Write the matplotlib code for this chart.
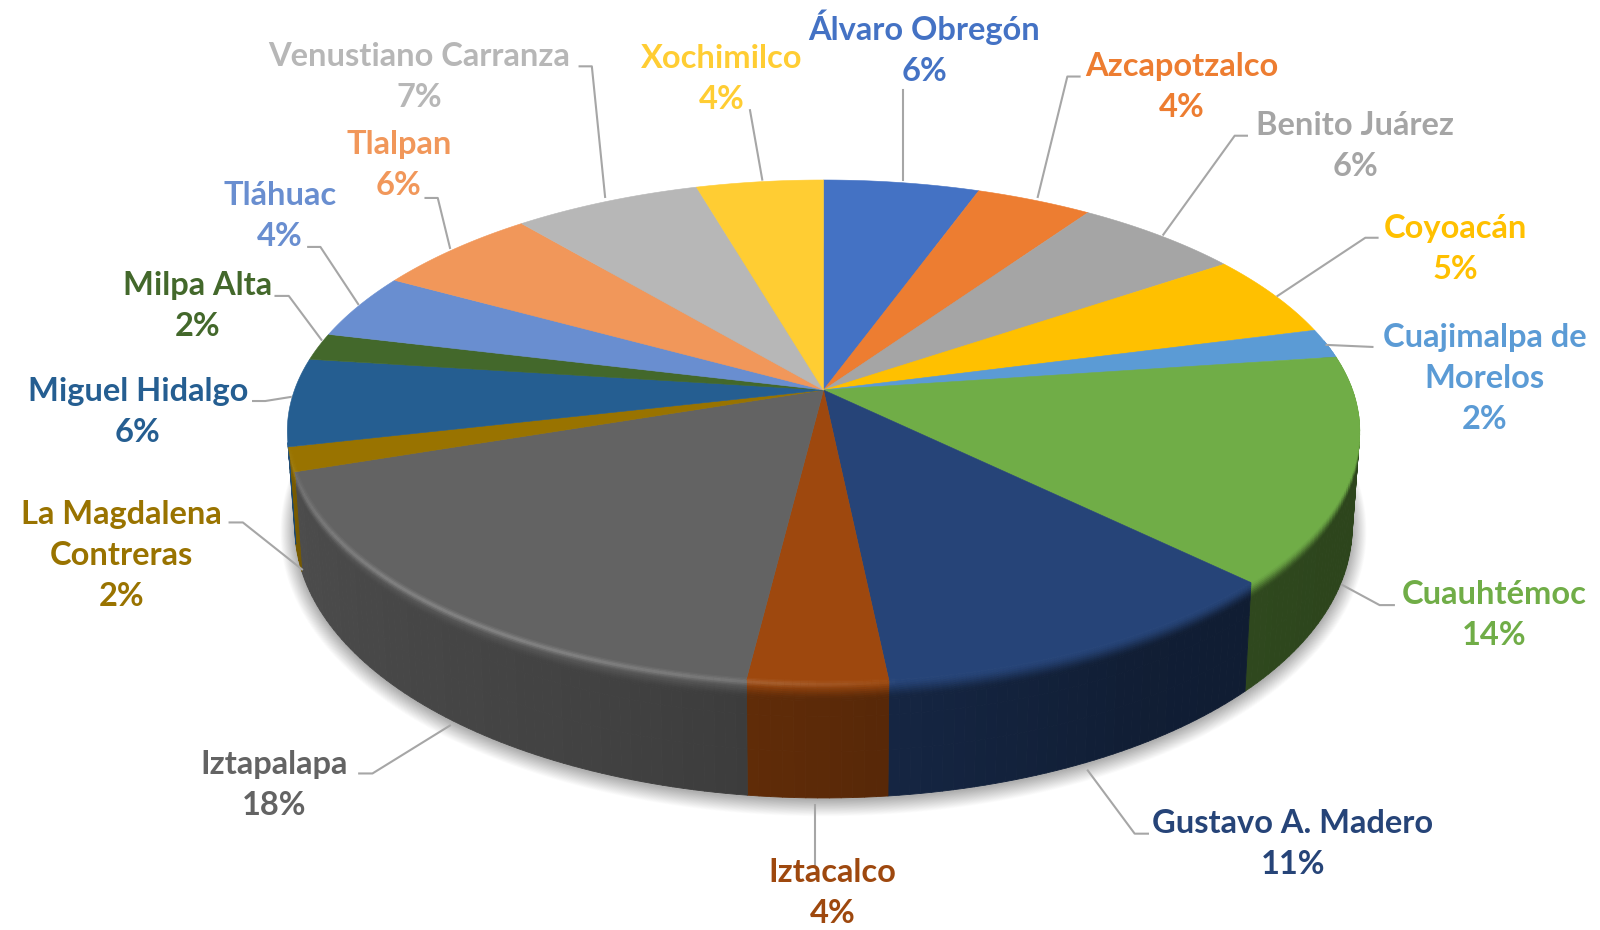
import numpy as np
import matplotlib
matplotlib.use("Agg")
import matplotlib.pyplot as plt
from matplotlib.collections import PolyCollection, LineCollection
from matplotlib.colors import to_rgb

# alcaldias, en orden de las manecillas desde arriba
alcaldias = ["Álvaro Obregón", "Azcapotzalco", "Benito Juárez", "Coyoacán",
             "Cuajimalpa de\nMorelos", "Cuauhtémoc", "Gustavo A. Madero", "Iztacalco",
             "Iztapalapa", "La Magdalena\nContreras", "Miguel Hidalgo", "Milpa Alta",
             "Tláhuac", "Tlalpan", "Venustiano Carranza", "Xochimilco"]
valores = [5.5, 4.1, 5.9, 5.4, 1.9, 14.5, 11.05, 3.6, 17.9, 1.55, 5.65, 1.75, 4.25, 5.85, 6.62, 4.48]
porcentajes = [6, 4, 6, 5, 2, 14, 11, 4, 18, 2, 6, 2, 4, 6, 7, 4]
colores = ["#4472C4", "#ED7D31", "#A5A5A5", "#FFC000", "#5B9BD5", "#70AD47", "#264478", "#9E480E",
           "#636363", "#997300", "#255E91", "#43682B", "#698ED0", "#F1975A", "#B7B7B7", "#FFCD33"]

# posicion de etiquetas y lineas guia (pixeles de la imagen 1568 de ancho)
pos_etiquetas = [(906, 47), (1158, 85), (1328, 143), (1426, 244), (1455, 371), (1464, 603),
                 (1267, 827), (816, 875), (269, 769), (119, 544), (135, 404), (194, 300),
                 (274, 212), (391, 162), (411, 75), (707, 77)]
guias = [[(885, 88), (885, 176)],
         [(1058, 75), (1046, 75), (1017, 193)],
         [(1222, 133), (1210, 133), (1140, 230)],
         [(1350, 233), (1338, 233), (1252, 290)],
         [(1345, 340), (1300, 338)],
         [(1366, 593), (1352, 593), (1315, 573)],
         [(1125, 817), (1112, 817), (1066, 755)],
         [(799, 848), (799, 789)],
         [(352, 758), (365, 758), (441, 711)],
         [(225, 512), (238, 512), (296, 558)],
         [(248, 393), (260, 393), (285, 389)],
         [(270, 290), (283, 290), (315, 333)],
         [(302, 242), (314, 242), (351, 298)],
         [(417, 194), (429, 194), (441, 243)],
         [(568, 65), (580, 65), (593, 193)],
         [(735, 108), (747, 176)]]

ESC = 1600 / 1568
CX, CY = 823.5, 390
R, B, K = 529, 244.3, 0.1633

def disco(theta, r=1.0):
    # theta en grados desde arriba, sentido horario; perspectiva del disco
    t = np.radians(theta)
    x, y = r * np.sin(t), r * np.cos(t)
    w = 1 + K * y
    return CX + R * x / w, CY - B * y / w, y

def borde(theta, h):
    # h=0 borde superior, h=1 borde inferior de la pared
    x, y, yd = disco(theta)
    alto = 92 - 24 * yd
    return CX + (x - CX) * (1 - 0.014 * h), y + alto * h

fig = plt.figure(figsize=(16, 9.3), dpi=100)
ax = fig.add_axes([0, 0, 1, 1])
ax.set_xlim(0, 1600)
ax.set_ylim(930, 0)
ax.axis("off")

# sombra, sobre todo hacia abajo
tt = np.linspace(0, 360, 361)
bx, by = borde(tt, 1)
for s in np.linspace(1.05, 1.0, 40):
    px = CX + (bx - CX) * (1 + (s - 1) * 0.55)
    py = 470 + (by - 470) * s + 2
    ax.fill(px, py, color="black", alpha=0.0065, lw=0, zorder=1)

# angulos de cada rebanada
total = sum(valores)
cortes = np.concatenate([[0], np.cumsum(valores)]) / total * 360

# paredes
polys, cols = [], []
bandas = np.concatenate([np.linspace(0, 0.16, 10), [0.3, 0.6, 1.0]])
for i in range(len(valores)):
    a0, a1 = max(cortes[i], 78), min(cortes[i + 1], 258)
    if a1 <= a0:
        continue
    n = max(2, int(a1 - a0) + 1)
    th = np.linspace(a0, a1, n)
    c = np.array(to_rgb(colores[i]))
    for j in range(n - 1):
        med = (th[j] + th[j + 1]) / 2
        f = np.interp(med, [120, 150, 180, 200, 255], [0.40, 0.44, 0.58, 0.66, 0.78])
        for h0, h1 in zip(bandas[:-1], bandas[1:]):
            q = [borde(th[j], h0), borde(th[j + 1], h0), borde(th[j + 1], h1), borde(th[j], h1)]
            m = min((h0 + h1) / 2 / 0.16, 1)
            m = m * m * (3 - 2 * m)
            polys.append(q)
            cols.append(c * (1 - m) + c * f * m)
ax.add_collection(PolyCollection(polys, facecolors=cols, edgecolors=cols, linewidths=0.6, zorder=2))

# caras de arriba
for i in range(len(valores)):
    th = np.linspace(cortes[i], cortes[i + 1], 80)
    x, y, _ = disco(th)
    ax.fill(np.r_[CX, x], np.r_[CY, y], color=colores[i], lw=0.4, zorder=3)

# brillo del borde frontal, suave
th = np.linspace(172, 258, 120)
x, y = borde(th, 0.02)
segs = [[(x[j], y[j]), (x[j + 1], y[j + 1])] for j in range(len(th) - 1)]
alfa = np.clip(np.sin(np.radians((th[:-1] - 172) * 180 / 86)), 0, 1) ** 0.7
for ancho, fuerza in [(6, 0.05), (4, 0.07), (2, 0.10)]:
    ax.add_collection(LineCollection(segs, colors=[(1, 1, 1, a * fuerza) for a in alfa], linewidths=ancho, zorder=4))

# lineas guia
for g in guias:
    g = np.array(g) * ESC
    ax.plot(g[:, 0], g[:, 1], color="#A6A6A6", lw=1.5, solid_joinstyle="round", zorder=5)

# etiquetas
for nombre, v, c, p in zip(alcaldias, porcentajes, colores, pos_etiquetas):
    ax.text(p[0] * ESC, p[1] * ESC, f"{nombre}\n{v}%", color=c, ha="center", va="center",
            family="Lato", weight="bold", fontsize=23.5, linespacing=1.5, zorder=6)

fig.savefig("out.png", dpi=100, facecolor="white")
